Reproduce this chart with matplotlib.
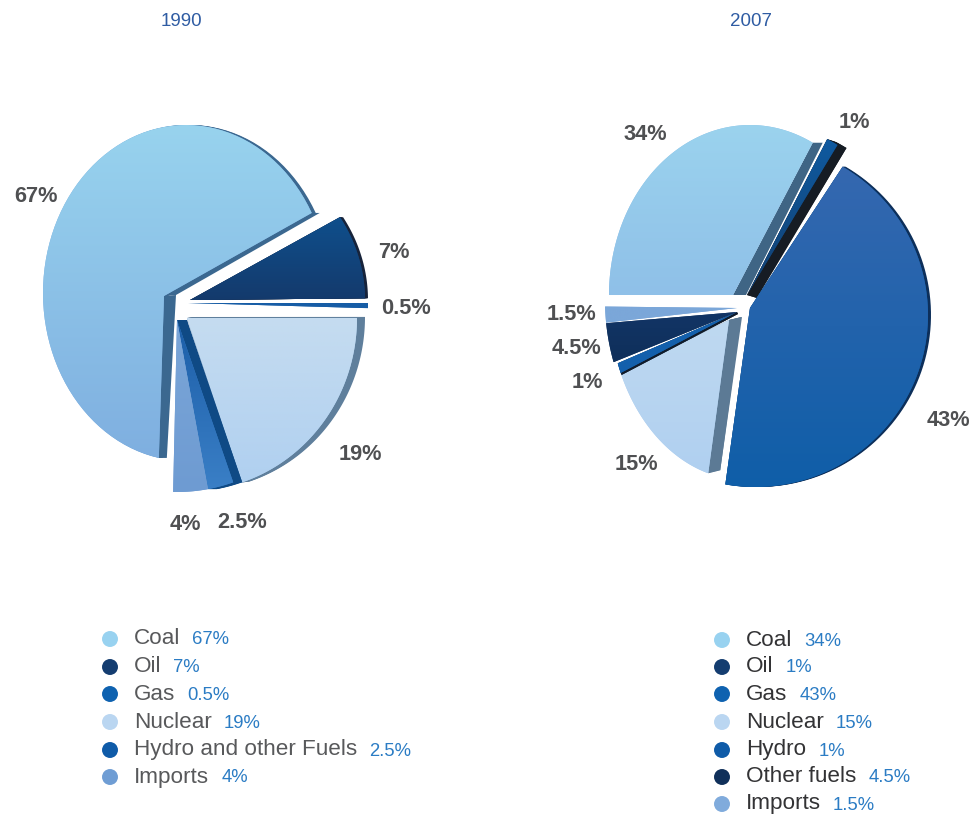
import numpy as np
import matplotlib
matplotlib.use("Agg")
import matplotlib.pyplot as plt
from matplotlib.path import Path
from matplotlib.patches import PathPatch, Polygon
from matplotlib.colors import LinearSegmentedColormap

plt.rcParams['font.family'] = ['Liberation Sans', 'DejaVu Sans']

# ---- data ----
title_1990 = "1990"
fuels_1990 = ["Coal", "Oil", "Gas", "Nuclear", "Hydro and other Fuels", "Imports"]
shares_1990 = [67, 7, 0.5, 19, 2.5, 4]

title_2007 = "2007"
fuels_2007 = ["Coal", "Oil", "Gas", "Nuclear", "Hydro", "Other fuels", "Imports"]
shares_2007 = [34, 1, 43, 15, 1, 4.5, 1.5]

# ---- style ----
W, H = 976, 818
GREY = "#4f5052"
VALUE = "#2b7cc4"
TITLE = "#2f5ca3"

legend_colors_1990 = ["#98d2f0", "#143d70", "#0f62b0", "#bad6f1", "#0f5ba8", "#6f9dd4"]
legend_colors_2007 = ["#98d2f0", "#143d70", "#0f62b0", "#bad6f1", "#0f5ba8", "#10305a", "#80abdc"]

# perspective of each slice (pixels): apex, arc centre, radii, arc rotation, arc squeeze,
# gradient top/bottom, side colour, depth at apex d, depth at edge end de, arc depth da
look_1990 = [
    dict(a=(164, 296), c=(186, 293), r=(143, 168), rot=-5.65, sq=.956, g=("#98d3ee", "#7fafe0"), s="#3b6890", d=(12, -1), de=(8, 0), da=(4, 0)),
    dict(a=(190, 300), c=(190, 300), r=(175, 161), rot=-.4, sq=1.206, g=("#0f4f8c", "#143a6c"), s="#17233a", d=(3, 0), de=(3, 0), da=(3, 0)),
    dict(a=(188, 303), c=(188, 303), r=(180, 165), rot=-3.6, sq=1.0, g=("#175da6", "#175da6"), s=None, d=(0, 0), de=(0, 0), da=(0, 0)),
    dict(a=(187, 318), c=(190, 318), r=(167, 173), rot=-3.6, sq=1.053, g=("#c5dcf0", "#b0d0f0"), s="#5f7f9c", d=(8, -1), de=(8, -1), da=(8, -1)),
    dict(a=(177, 320), c=(177, 320), r=(170, 172), rot=-4.0, sq=.98, g=("#1c5ea8", "#3a7fc6"), s="#0f4a85", d=(10, 0), de=(9, 0), da=(9, 0)),
    dict(a=(177, 320), c=(177, 320), r=(170, 172), rot=-2.6, sq=.82, g=("#7ba6d8", "#6e9bd2"), s=None, d=(0, 0), de=(0, 0), da=(0, 0)),
]
look_2007 = [
    dict(a=(733, 295), c=(750, 295), r=(141, 170), rot=3.0, sq=.951, g=("#9bd3ee", "#8fc0e8"), s="#3f6585", d=(13, 0), de=(10, 0), da=(0, 0)),
    dict(a=(747, 295), c=(750, 295), r=(170, 175), rot=5.2, sq=1.1, g=("#0f5aa0", "#123f70"), s="#161c24", d=(10, 3), de=(9, 3), da=(9, 3)),
    dict(a=(750, 308), c=(755, 315), r=(173, 172), rot=3.25, sq=1.03, g=("#3568b0", "#0f5ea8"), s="#0d2f5a", d=(3, 0), de=(3, 0), da=(3, 0)),
    dict(a=(729, 320), c=(745, 300), r=(136, 180), rot=-3.0, sq=.93, g=("#bfd9f1", "#b0d0f0"), s="#5c7a95", d=(13, -3), de=(12, -3), da=(12, -3)),
    dict(a=(737, 312), c=(745, 300), r=(136, 180), rot=-1.15, sq=.92, g=("#1460ac", "#1460ac"), s="#101c2c", d=(1, 2), de=(1, 2), da=(1, 2)),
    dict(a=(737, 312), c=(745, 300), r=(140, 180), rot=.3, sq=.79, g=("#123566", "#0f2f5a"), s=None, d=(0, 0), de=(0, 0), da=(0, 0)),
    dict(a=(737, 308), c=(745, 300), r=(140, 180), rot=1.95, sq=.95, g=("#7ba7d9", "#7ba7d9"), s=None, d=(0, 0), de=(0, 0), da=(0, 0)),
]

labels_xy_1990 = [(36, 197), (394, 252), (406, 309), (360, 454), (242, 522), (185, 524)]
labels_xy_2007 = [(645, 135), (854, 122), (948, 420), (636, 464), (587, 382), (577, 349), (571, 314)]
legend_y_1990 = [639, 667, 694, 722, 750, 777]
legend_y_2007 = [640, 667, 694, 722, 750, 777, 804]


def Y(py):
    return H - py


fig = plt.figure(figsize=(W / 100, H / 100), dpi=100)
ax = fig.add_axes([0, 0, 1, 1])


def draw_pie(shares, start, looks, base_z):
    wedges, _ = ax.pie(shares, startangle=start, counterclock=False, radius=1,
                       wedgeprops=dict(linewidth=0))
    flip = np.array([1, -1])
    for i, (w, lk) in enumerate(zip(wedges, looks)):
        z = base_z + i
        mid = (w.theta1 + w.theta2) / 2
        phi = np.radians(np.linspace(mid + lk["rot"] + lk["sq"] * (w.theta1 - mid),
                                     mid + lk["rot"] + lk["sq"] * (w.theta2 - mid), 80))
        xs = lk["c"][0] + lk["r"][0] * np.cos(phi)
        ys = lk["c"][1] - lk["r"][1] * np.sin(phi)
        verts = [(lk["a"][0], Y(lk["a"][1]))] + [(x, Y(y)) for x, y in zip(xs, ys)]
        verts.append(verts[0])
        vv = np.array(verts)
        w._path = Path(vv, closed=True)
        w.set_facecolor(lk["g"][1])
        w.set_zorder(z + .3)
        if lk["s"]:
            d, de, da = (np.array(lk[k]) * flip for k in ("d", "de", "da"))
            # side walls: each straight edge swept by the depth
            for e in (vv[1], vv[-2]):
                ax.add_patch(Polygon([vv[0], e, e + de, vv[0] + d], closed=True,
                                     facecolor=lk["s"], edgecolor="none", zorder=z + .1))
            # outer rim: the arc swept by the rim depth
            n = int(max(abs(da[0]), abs(da[1])))
            for k in range(1, n + 1):
                ax.add_patch(PathPatch(Path(vv + da * k / n, closed=True),
                                       facecolor=lk["s"], edgecolor="none", zorder=z + .1))
        cmap = LinearSegmentedColormap.from_list("g", list(lk["g"]))
        grad = np.linspace(0, 1, 256)[:, None]
        im = ax.imshow(grad, cmap=cmap, aspect="auto", zorder=z + .5,
                       extent=(vv[:, 0].min(), vv[:, 0].max(), vv[:, 1].min(), vv[:, 1].max()))
        im.set_clip_path(w)


draw_pie(shares_1990, 270, look_1990, 2)
draw_pie(shares_2007, 180, look_2007, 20)


def pct(v):
    return f"{v:g}%"


def annotate(shares, positions):
    for v, (x, y) in zip(shares, positions):
        ax.text(x, Y(y), pct(v), ha="center", va="center", fontsize=15.7,
                fontweight="bold", color=GREY, zorder=50)


annotate(shares_1990, labels_xy_1990)
annotate(shares_2007, labels_xy_2007)

ax.text(181, Y(22), title_1990, ha="center", va="center", fontsize=13.5, color=TITLE)
ax.text(751, Y(22), title_2007, ha="center", va="center", fontsize=13.5, color=TITLE)

renderer = fig.canvas.get_renderer()


def legend(names, shares, colors, ys, mx, tx, name_color):
    ax.scatter([mx] * len(ys), [Y(y) for y in ys], s=132, c=colors, linewidths=0, zorder=50)
    for n, v, y in zip(names, shares, ys):
        t = ax.text(tx, Y(y), n, ha="left", va="center", fontsize=16.2, color=name_color, zorder=50)
        right = t.get_window_extent(renderer).x1
        ax.text(right + 12, Y(y) - 1, pct(v), ha="left", va="center", fontsize=13.3, color=VALUE, zorder=50)


ax.set_xlim(0, W)
ax.set_ylim(0, H)
ax.set_aspect("auto")
legend(fuels_1990, shares_1990, legend_colors_1990, legend_y_1990, 110, 134, "#58595b")
legend(fuels_2007, shares_2007, legend_colors_2007, legend_y_2007, 722, 746, "#333335")
ax.set_xlim(0, W)
ax.set_ylim(0, H)
ax.set_axis_off()

fig.savefig("out.png", dpi=100, facecolor="white")
